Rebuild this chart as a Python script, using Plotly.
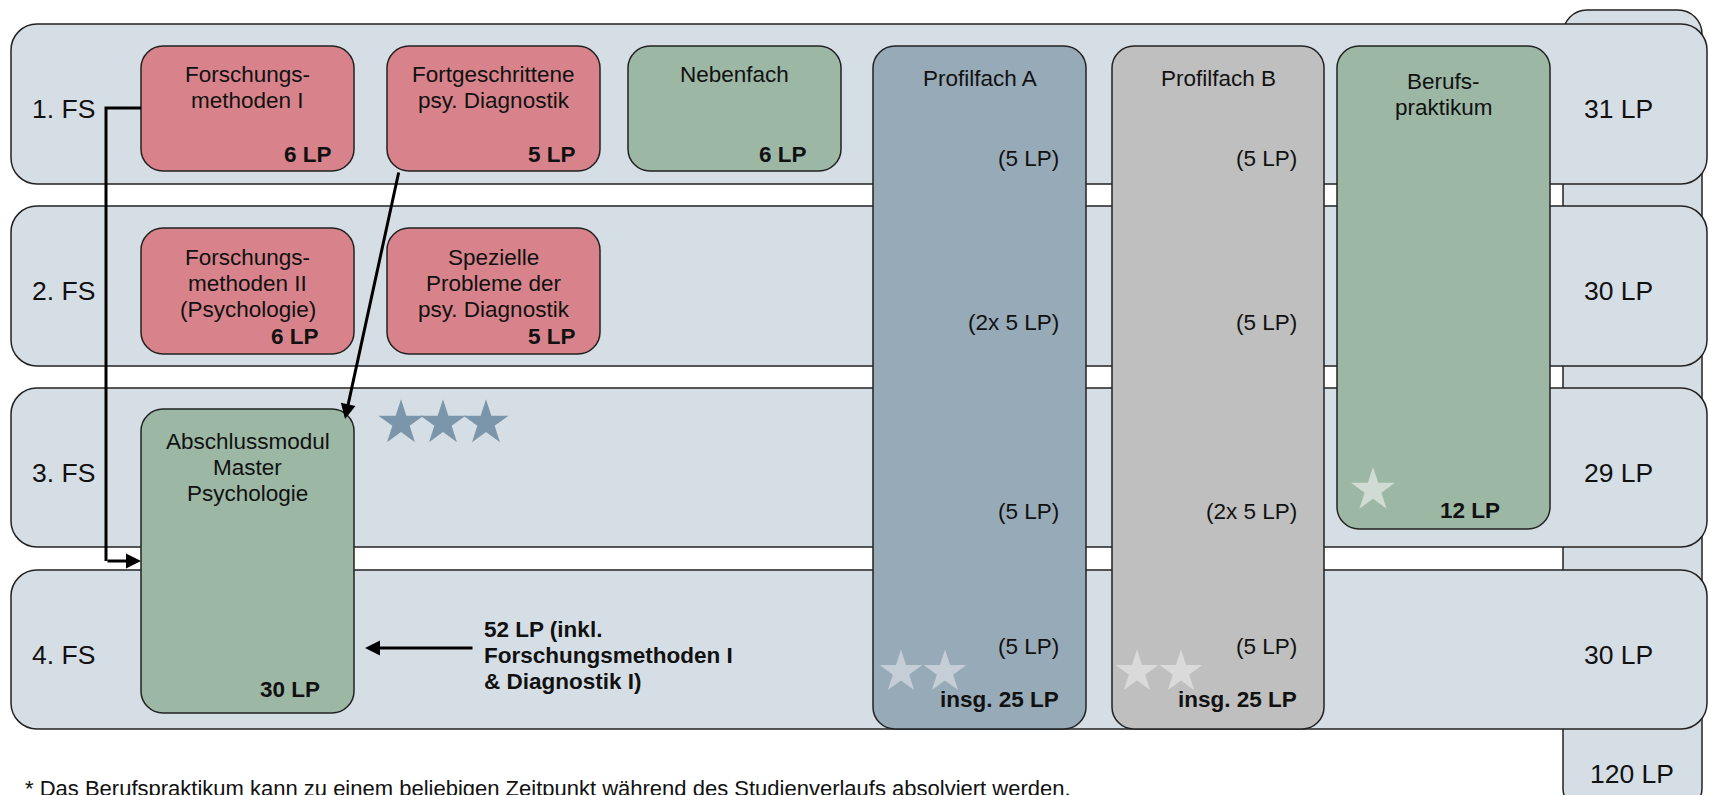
import plotly.graph_objects as go

# ---------------- data ----------------
semesters = ["1. FS", "2. FS", "3. FS", "4. FS"]
semester_lp = ["31 LP", "30 LP", "29 LP", "30 LP"]
total_lp = "120 LP"

module_titles = [
    "Forschungs-<br>methoden I",
    "Fortgeschrittene<br>psy. Diagnostik",
    "Nebenfach",
    "Profilfach A",
    "Profilfach B",
    "Berufs-<br>praktikum",
    "Forschungs-<br>methoden II<br>(Psychologie)",
    "Spezielle<br>Probleme der<br>psy. Diagnostik",
    "Abschlussmodul<br>Master<br>Psychologie",
]
module_lp = ["6 LP", "5 LP", "6 LP", "insg. 25 LP", "insg. 25 LP", "12 LP", "6 LP", "5 LP", "30 LP"]
module_kind = ["method", "method", "elective", "profileA", "profileB", "elective", "method", "method", "elective"]

profil_a_lp = ["(5 LP)", "(2x 5 LP)", "(5 LP)", "(5 LP)"]
profil_b_lp = ["(5 LP)", "(5 LP)", "(2x 5 LP)", "(5 LP)"]

note_text = "52 LP (inkl.<br>Forschungsmethoden I<br>& Diagnostik I)"
footnote = "* Das Berufspraktikum kann zu einem beliebigen Zeitpunkt während des Studienverlaufs absolviert werden."

# ---------------- geometry / style ----------------
W, H = 1709, 795
FONT = "Liberation Sans, Arial, sans-serif"
TXT = "#111111"
EDGE = "#222222"
kind_color = {"method": "#d8838b", "elective": "#9cb8a5", "profileA": "#97aab8", "profileB": "#bfbfbf"}
row_fill = "#d6dee5"

row_y = [(24, 184), (206, 366), (388, 547), (570, 729)]
row_x = (11, 1707)
column_box = (1563, 10, 1702, 812)

box_geo = [
    (141, 46, 354, 171),
    (387, 46, 600, 171),
    (628, 46, 841, 171),
    (873, 46, 1086, 729),
    (1112, 46, 1324, 729),
    (1337, 46, 1550, 529),
    (141, 228, 354, 354),
    (387, 228, 600, 354),
    (141, 409, 354, 713),
]
title_y = [74, 74, 74, 78, 78, 81, 257, 257, 441]
lp_pos = [(334, 154), (578, 154), (809, 154), (1061, 699), (1299, 699),
          (1502, 510), (321, 336), (578, 336), (322, 689)]
profil_label_y = [158, 322, 511, 646]
profil_label_x = [1061, 1299]
LINE = 26
FS_MOD = 22.5
FS_ROW = 26.5

stars = [
    ([401, 443, 486], [423, 423, 423], 34, "#7b96ab"),
    ([901, 945], [672, 672], 32, "#c5ced6"),
    ([1137, 1181], [672, 672], 32, "#dadada"),
    ([1373], [490], 33, "#d0dcd3"),
]


def rrect(x0, y0, x1, y1, r):
    k = 0.4477 * r
    return (f"M{x0 + r},{y0} L{x1 - r},{y0} C{x1 - k},{y0} {x1},{y0 + k} {x1},{y0 + r} "
            f"L{x1},{y1 - r} C{x1},{y1 - k} {x1 - k},{y1} {x1 - r},{y1} "
            f"L{x0 + r},{y1} C{x0 + k},{y1} {x0},{y1 - k} {x0},{y1 - r} "
            f"L{x0},{y0 + r} C{x0},{y0 + k} {x0 + k},{y0} {x0 + r},{y0} Z")


shapes = []
annotations = []


def add_box(geo, fill, r, width=1.5):
    shapes.append(dict(type="path", path=rrect(*geo, r), xref="x", yref="y",
                       fillcolor=fill, line=dict(color=EDGE, width=width), layer="below"))


def text(x, y, s, size=FS_MOD, bold=False, xanchor="center", color=TXT):
    if bold:
        s = f"<b>{s}</b>"
    annotations.append(dict(x=x, y=y, xref="x", yref="y", text=s, showarrow=False,
                            xanchor=xanchor, yanchor="middle",
                            font=dict(family=FONT, size=size, color=color)))


def arrow(x0, y0, x1, y1):
    annotations.append(dict(x=x1, y=y1, ax=x0, ay=y0, xref="x", yref="y", axref="x", ayref="y",
                            text="", showarrow=True, arrowhead=2, arrowsize=1.0, arrowwidth=3,
                            arrowcolor="#000000", standoff=0, startstandoff=0))


# tall total column (behind rows)
add_box(column_box, row_fill, 24)
# semester rows
for (y0, y1) in row_y:
    add_box((row_x[0], y0, row_x[1], y1), row_fill, 26)
# modules
for geo, kind in zip(box_geo, module_kind):
    add_box(geo, kind_color[kind], 22)

# semester labels and totals
for (y0, y1), lab, lp in zip(row_y, semesters, semester_lp):
    yc = (y0 + y1) / 2 + 5
    text(30, yc, lab, size=FS_ROW, xanchor="left")
    text(1618, yc, lp, size=FS_ROW)
text(1632, 774, total_lp, size=FS_ROW)

# module titles and LP
for geo, title, ty, lp, (lx, ly) in zip(box_geo, module_titles, title_y, module_lp, lp_pos):
    cx = (geo[0] + geo[2]) / 2
    for i, line in enumerate(title.split("<br>")):
        text(cx, ty + i * LINE, line)
    text(lx, ly, lp, bold=True, xanchor="right")

# profilfach per-semester LP
for labels, lx in zip([profil_a_lp, profil_b_lp], profil_label_x):
    for lab, ly in zip(labels, profil_label_y):
        text(lx, ly, lab, xanchor="right")

# note
for i, line in enumerate(note_text.split("<br>")):
    text(482, 629 + i * 26, line, bold=True, xanchor="left")

# footnote
text(23, 788, footnote, size=22, xanchor="left")

# connectors
shapes.append(dict(type="path", path="M141,108 L106,108 L106,561", xref="x", yref="y",
                   line=dict(color="#000000", width=3)))
arrow(106, 561, 141, 561)
arrow(399, 171, 345, 419)
arrow(474, 648, 365, 648)

fig = go.Figure()
for xs, ys, size, col in stars:
    fig.add_trace(go.Scatter(x=xs, y=ys, mode="markers", hoverinfo="skip",
                             marker=dict(symbol="star", size=size, color=col, line=dict(width=0))))

fig.update_layout(
    width=W, height=H, margin=dict(l=0, r=0, t=0, b=0),
    paper_bgcolor="white", plot_bgcolor="white", showlegend=False,
    xaxis=dict(range=[0, W], visible=False, fixedrange=True),
    yaxis=dict(range=[H, 0], visible=False, fixedrange=True),
    shapes=shapes, annotations=annotations,
)
fig.write_html("out.html", config={"displayModeBar": False},
               post_script="document.body.style.margin='0px';document.body.style.overflow='hidden';")
